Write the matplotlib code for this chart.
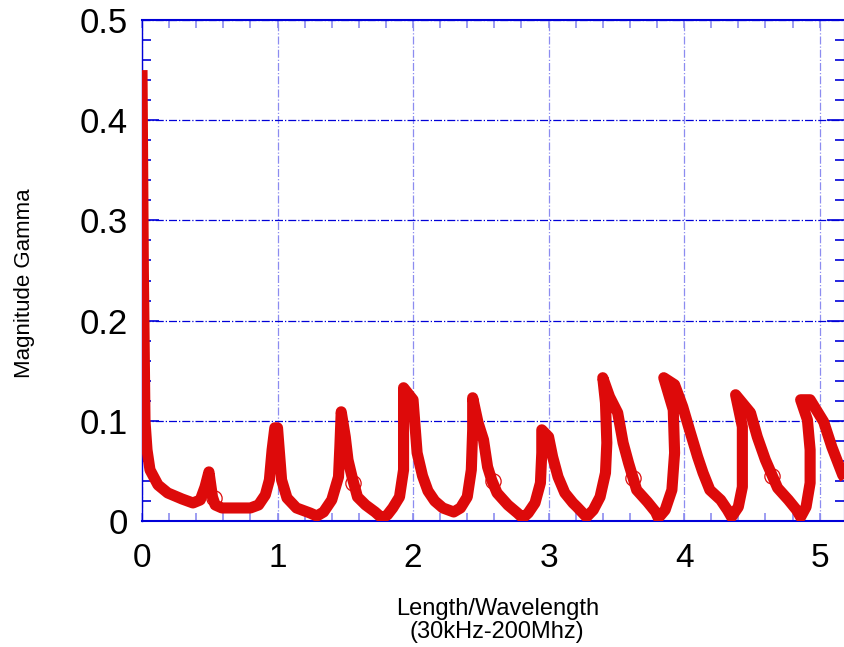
import matplotlib
matplotlib.use("Agg")
import matplotlib.pyplot as plt
from matplotlib.ticker import MultipleLocator

# length / wavelength and |Gamma|
length = [0.0, 0.01, 0.022, 0.037, 0.059, 0.118, 0.19, 0.295, 0.376, 0.43, 0.465, 0.494,
          0.52, 0.54, 0.59, 0.69, 0.8, 0.86, 0.91, 0.94, 0.96, 0.98, 1.0,
          1.03, 1.07, 1.14, 1.24, 1.29, 1.34, 1.40, 1.45, 1.46, 1.47,
          1.50, 1.52, 1.55, 1.59, 1.65, 1.72, 1.77, 1.81, 1.85, 1.90, 1.93, 1.93, 1.93,
          2.0, 2.03, 2.07, 2.11, 2.16, 2.22, 2.30, 2.35, 2.40, 2.43, 2.44, 2.44,
          2.48, 2.52, 2.55, 2.58, 2.62, 2.70, 2.77, 2.81, 2.85, 2.90, 2.94, 2.95, 2.95,
          3.0, 3.03, 3.07, 3.12, 3.18, 3.21, 3.28, 3.33, 3.38, 3.42, 3.43, 3.42, 3.40,
          3.45, 3.51, 3.55, 3.59, 3.65, 3.73, 3.79, 3.81, 3.86, 3.91, 3.93, 3.92, 3.85,
          3.93, 3.99, 4.04, 4.10, 4.14, 4.19, 4.27, 4.32, 4.35, 4.40, 4.43, 4.43, 4.43, 4.38,
          4.49, 4.54, 4.60, 4.69, 4.77, 4.83, 4.86, 4.90, 4.93, 4.93, 4.91, 4.86,
          4.93, 5.03, 5.09, 5.17, 5.20]
gamma = [0.45, 0.25, 0.1, 0.071, 0.051, 0.036, 0.028, 0.022, 0.018, 0.021, 0.034, 0.049,
         0.024, 0.016, 0.013, 0.013, 0.013, 0.016, 0.026, 0.041, 0.071, 0.093, 0.093,
         0.041, 0.023, 0.013, 0.008, 0.005, 0.009, 0.021, 0.044, 0.074, 0.109,
         0.084, 0.061, 0.044, 0.024, 0.016, 0.009, 0.003, 0.006, 0.013, 0.024, 0.051, 0.1, 0.133,
         0.121, 0.068, 0.045, 0.030, 0.020, 0.013, 0.009, 0.013, 0.024, 0.051, 0.091, 0.123,
         0.098, 0.081, 0.054, 0.041, 0.028, 0.016, 0.008, 0.003, 0.008, 0.018, 0.038, 0.068, 0.091,
         0.084, 0.064, 0.044, 0.028, 0.018, 0.014, 0.004, 0.011, 0.024, 0.048, 0.078, 0.118, 0.143,
         0.124, 0.108, 0.078, 0.058, 0.031, 0.019, 0.009, 0.003, 0.011, 0.031, 0.068, 0.111, 0.143,
         0.136, 0.114, 0.091, 0.064, 0.048, 0.031, 0.021, 0.011, 0.004, 0.014, 0.034, 0.061, 0.094, 0.126,
         0.108, 0.084, 0.061, 0.033, 0.021, 0.011, 0.004, 0.014, 0.038, 0.071, 0.101, 0.121,
         0.121, 0.099, 0.074, 0.046, 0.04]

# open circle markers
mark_x = [0.53, 1.56, 2.59, 3.62, 4.65]
mark_y = [0.023, 0.038, 0.040, 0.043, 0.045]

blue = "#0000d8"
light_blue = "#8c8cf0"

fig = plt.figure(figsize=(8.44, 6.47), dpi=100)
ax = fig.add_axes([142 / 844, 1 - 521 / 647, 702 / 844, 501 / 647])

ax.plot(length, gamma, color="#dd0a0a", lw=8, solid_joinstyle="round",
        solid_capstyle="butt", zorder=3)
ax.plot(mark_x, mark_y, "o", ms=11, mfc="none", mec="#dd0a0a", mew=0.9, zorder=4)

ax.set_xlim(0, 5.18)
ax.set_ylim(0, 0.5)

ax.xaxis.set_major_locator(MultipleLocator(1))
ax.xaxis.set_minor_locator(MultipleLocator(0.2))
ax.yaxis.set_minor_locator(MultipleLocator(0.02))
ax.set_yticks([0, 0.1, 0.2, 0.3, 0.4, 0.5])
ax.set_yticklabels(["0", "0.1", "0.2", "0.3", "0.4", "0.5"])

ax.grid(True, which="major", axis="y", color=blue, ls="-.", lw=0.9)
ax.grid(True, which="major", axis="x", color=light_blue, ls="-.", lw=0.9)

ax.tick_params(axis="y", which="major", direction="in", length=12, width=1.2,
               color=blue, left=True, right=True, labelsize=25, pad=10)
ax.tick_params(axis="y", which="minor", direction="in", length=6.5, width=1.2,
               color=blue, left=True, right=True)
ax.tick_params(axis="x", which="both", direction="in", length=6, width=1.2,
               color=light_blue, top=True, bottom=True, pad=16)
for lab in ax.get_xticklabels():
    lab.set_family(["Liberation Sans Narrow", "Liberation Sans"])
    lab.set_fontsize(24)
for lab in ax.get_yticklabels():
    lab.set_family("Liberation Sans")

for side in ["top", "bottom"]:
    ax.spines[side].set_color(blue)
    ax.spines[side].set_linestyle((0, (2, 1)))
    ax.spines[side].set_linewidth(1.5)
ax.spines["left"].set_color(blue)
ax.spines["left"].set_linewidth(1.0)
ax.spines["right"].set_color(blue)

ax.set_ylabel("Magnitude Gamma", fontsize=16, family="Liberation Sans")
ax.yaxis.set_label_coords(-0.152, 0.475)
ax.set_xlabel("Length/Wavelength\n(30kHz-200Mhz)", fontsize=17,
              family="Liberation Sans", linespacing=1.05)
ax.xaxis.set_label_coords(0.506, -0.154)

fig.savefig("out.png", dpi=100)
